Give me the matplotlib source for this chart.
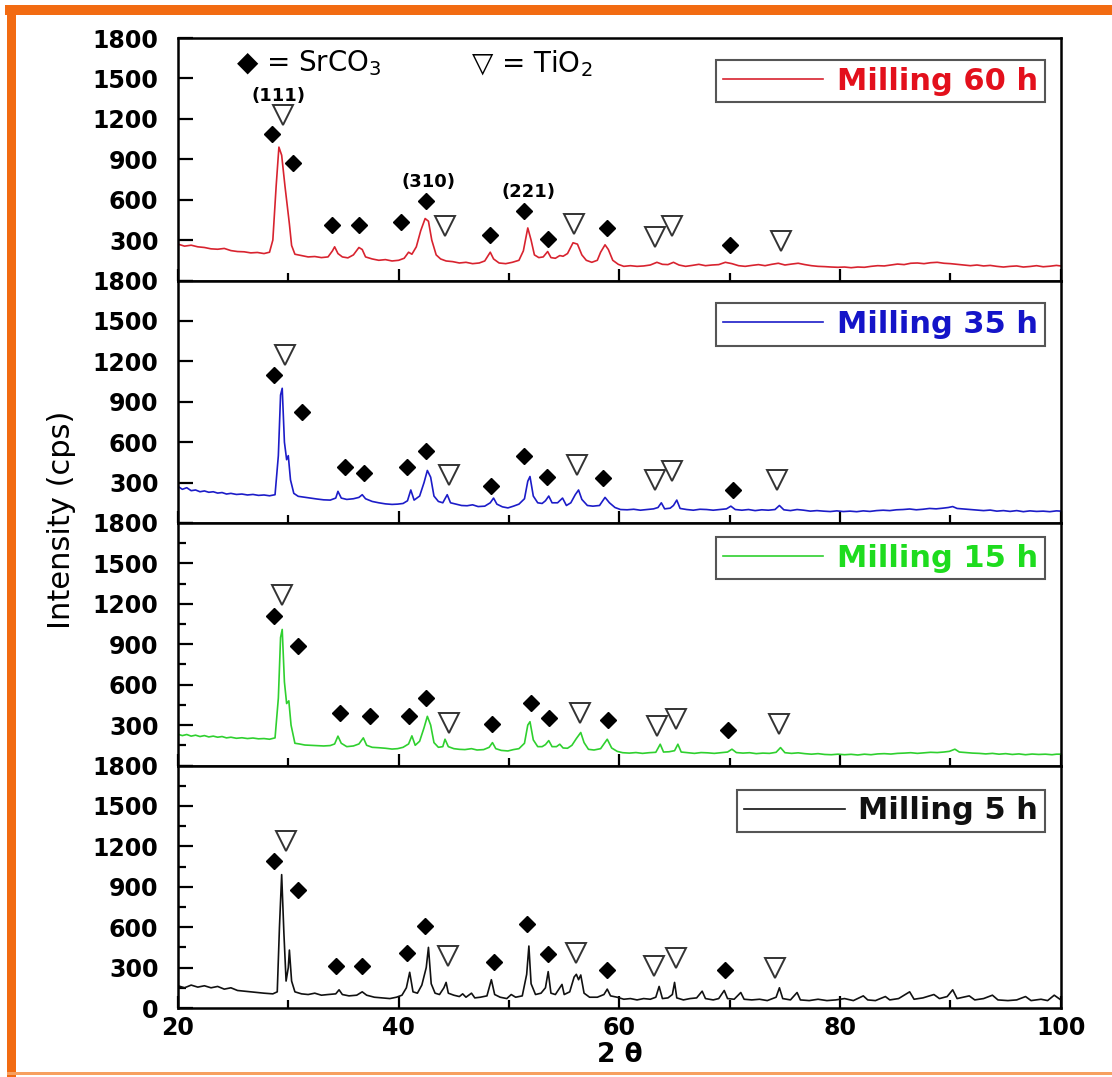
import matplotlib.pyplot as plt
from matplotlib.lines import Line2D
from matplotlib.patches import Rectangle
from matplotlib.ticker import MultipleLocator

# ---- padrões de DRX (2 theta, intensidade em cps) ----
tt_60 = [20.0, 20.6, 21.2, 21.8, 22.4, 23.0, 23.6, 24.2, 24.8, 25.4, 26.0, 26.6, 27.2, 27.8, 28.3, 28.6,
         28.9, 29.15, 29.4, 29.7, 29.9, 30.1, 30.3, 30.6, 31.2, 31.8, 32.4, 33.0, 33.6, 34.0, 34.2, 34.5,
         34.9, 35.4, 35.9, 36.4, 36.7, 37.0, 37.6, 38.2, 38.8, 39.4, 40.0, 40.5, 40.9, 41.2, 41.6, 42.0,
         42.4, 42.7, 43.0, 43.4, 43.8, 44.3, 44.9, 45.5, 46.1, 46.7, 47.3, 47.8, 48.3, 48.6, 49.1, 49.7,
         50.3, 50.9, 51.3, 51.7, 52.0, 52.3, 52.7, 53.1, 53.5, 53.8, 54.2, 54.6, 54.9, 55.3, 55.8, 56.2,
         56.6, 57.0, 57.5, 58.0, 58.3, 58.7, 59.0, 59.4, 59.9, 60.4, 61.0, 61.6, 62.2, 62.8, 63.4, 63.9,
         64.4, 64.9, 65.4, 66.0, 66.6, 67.2, 67.8, 68.4, 69.0, 69.6, 70.2, 70.8, 71.4, 72.0, 72.6, 73.2,
         73.8, 74.4, 75.0, 75.6, 76.2, 76.8, 77.4, 78.0, 78.6, 79.2, 79.8, 80.4, 81.0, 81.6, 82.2, 82.8,
         83.4, 84.0, 84.6, 85.2, 85.8, 86.4, 87.0, 87.6, 88.2, 88.8, 89.4, 90.0, 90.6, 91.2, 91.8, 92.4,
         93.0, 93.6, 94.2, 94.8, 95.4, 96.0, 96.6, 97.2, 97.8, 98.4, 99.0, 99.6, 100.0]
i_60 = [270, 255, 262, 250, 245, 235, 232, 238, 222, 215, 213, 205, 208, 200, 210, 300,
        700, 990, 930, 700, 560, 420, 260, 195, 185, 175, 178, 170, 175, 220, 250, 200,
        175, 168, 190, 245, 230, 175, 160, 150, 155, 145, 150, 165, 210, 195, 250, 370,
        460, 440, 300, 190, 160, 145, 140, 130, 135, 125, 130, 145, 210, 160, 130, 125,
        135, 150, 220, 390, 300, 190, 170, 175, 215, 170, 165, 185, 180, 200, 280, 270,
        190, 150, 135, 150, 210, 265, 230, 150, 120, 105, 110, 105, 108, 115, 135, 120,
        118, 135, 115, 105, 112, 120, 110, 115, 118, 135, 125, 110, 105, 112, 118, 110,
        120, 128, 115, 122, 128, 118, 110, 105, 103, 100, 98, 100, 95, 100, 98, 105,
        110, 108, 115, 122, 118, 128, 130, 125, 132, 135, 128, 125, 120, 115, 110, 115,
        108, 112, 105, 100, 105, 108, 100, 104, 110, 102, 106, 112, 108]

tt_35 = [20.0, 20.4, 20.8, 21.2, 21.6, 22.0, 22.4, 22.8, 23.2, 23.6, 24.0, 24.4, 24.8, 25.3, 25.8, 26.3,
         26.8, 27.3, 27.8, 28.3, 28.8, 29.1, 29.3, 29.45, 29.65, 29.85, 30.0, 30.2, 30.5, 30.9, 31.4, 32.0,
         32.6, 33.2, 33.8, 34.3, 34.5, 34.8, 35.3, 35.9, 36.4, 36.7, 37.0, 37.6, 38.2, 38.8, 39.4, 39.9,
         40.4, 40.8, 41.1, 41.4, 41.9, 42.3, 42.6, 42.9, 43.2, 43.6, 44.0, 44.4, 44.7, 45.2, 45.7, 46.2,
         46.7, 47.2, 47.8, 48.3, 48.6, 48.9, 49.4, 49.9, 50.4, 50.9, 51.4, 51.7, 51.9, 52.2, 52.6, 53.0,
         53.3, 53.6, 53.9, 54.4, 54.85, 55.2, 55.6, 56.0, 56.3, 56.6, 57.1, 57.6, 58.2, 58.7, 59.1, 59.6,
         60.1, 60.7, 61.3, 61.9, 62.5, 63.1, 63.5, 63.8, 64.1, 64.6, 64.9, 65.2, 65.5, 66.1, 66.7, 67.3,
         67.9, 68.5, 69.1, 69.7, 70.1, 70.5, 71.1, 71.7, 72.3, 72.9, 73.5, 74.1, 74.5, 74.9, 75.5, 76.1,
         76.7, 77.3, 77.9, 78.5, 79.1, 79.7, 80.3, 80.9, 81.5, 82.1, 82.7, 83.3, 83.9, 84.5, 85.1, 85.7,
         86.3, 86.9, 87.5, 88.1, 88.7, 89.3, 89.8, 90.2, 90.6, 91.2, 91.8, 92.4, 93.0, 93.6, 94.2, 94.8,
         95.4, 96.0, 96.6, 97.2, 97.8, 98.4, 99.0, 99.6, 100.0]
i_35 = [272, 250, 262, 240, 245, 232, 238, 228, 232, 222, 226, 215, 220, 212, 215, 208,
        212, 205, 208, 202, 210, 500, 950, 1000, 600, 470, 500, 320, 220, 198, 192, 185,
        178, 172, 170, 185, 235, 185, 175, 180, 190, 210, 180, 160, 150, 142, 138, 140,
        145, 165, 245, 170, 200, 300, 390, 340, 200, 160, 150, 210, 150, 140, 130, 128,
        135, 122, 125, 150, 185, 140, 120, 112, 125, 140, 180, 310, 345, 200, 150, 145,
        165, 200, 150, 150, 185, 130, 150, 210, 245, 175, 130, 125, 130, 190, 150, 115,
        100, 98, 102, 95, 100, 105, 115, 150, 105, 110, 130, 170, 108, 100, 95, 102,
        100, 95, 100, 105, 125, 100, 95, 100, 92, 98, 95, 100, 130, 98, 92, 100,
        95, 88, 92, 88, 85, 90, 85, 88, 84, 90, 86, 92, 95, 92, 98, 100,
        104, 98, 102, 108, 105, 110, 115, 122, 108, 104, 100, 96, 92, 96, 88, 92,
        86, 92, 84, 90, 86, 88, 84, 90, 88]

tt_15 = [20.0, 20.4, 20.8, 21.2, 21.6, 22.0, 22.4, 22.8, 23.2, 23.6, 24.0, 24.4, 24.8, 25.3, 25.8, 26.3,
         26.8, 27.3, 27.8, 28.3, 28.8, 29.1, 29.3, 29.45, 29.65, 29.85, 30.05, 30.25, 30.6, 31.0, 31.5, 32.0,
         32.6, 33.2, 33.8, 34.2, 34.5, 34.8, 35.3, 35.9, 36.4, 36.8, 37.1, 37.6, 38.2, 38.8, 39.4, 39.9,
         40.4, 40.9, 41.2, 41.5, 41.9, 42.3, 42.6, 42.9, 43.2, 43.6, 44.0, 44.2, 44.5, 45.0, 45.5, 46.0,
         46.6, 47.1, 47.7, 48.2, 48.5, 48.8, 49.3, 49.9, 50.4, 50.9, 51.4, 51.7, 51.9, 52.2, 52.6, 53.0,
         53.3, 53.6, 53.9, 54.3, 54.6, 54.9, 55.3, 55.7, 56.1, 56.5, 56.8, 57.2, 57.7, 58.3, 58.9, 59.3,
         59.8, 60.3, 60.9, 61.5, 62.1, 62.7, 63.3, 63.7, 64.0, 64.5, 65.0, 65.3, 65.6, 66.2, 66.8, 67.4,
         68.0, 68.6, 69.2, 69.8, 70.2, 70.6, 71.2, 71.8, 72.4, 73.0, 73.6, 74.2, 74.6, 75.0, 75.6, 76.2,
         76.8, 77.4, 78.0, 78.6, 79.2, 79.8, 80.4, 81.0, 81.6, 82.2, 82.8, 83.4, 84.0, 84.6, 85.2, 85.8,
         86.4, 87.0, 87.6, 88.2, 88.8, 89.4, 89.9, 90.4, 90.8, 91.4, 92.0, 92.6, 93.2, 93.8, 94.4, 95.0,
         95.6, 96.2, 96.8, 97.4, 98.0, 98.6, 99.2, 99.6, 100.0]
i_15 = [232, 222, 230, 218, 225, 215, 222, 212, 218, 210, 215, 205, 210, 202, 206, 200,
        204, 198, 200, 195, 205, 500, 950, 1010, 620, 460, 480, 300, 165, 160, 152, 150,
        148, 145, 148, 160, 218, 165, 140, 145, 160, 205, 150, 135, 132, 128, 122, 125,
        135, 160, 220, 150, 180, 280, 365, 300, 170, 135, 140, 195, 140, 125, 120, 118,
        125, 115, 118, 135, 170, 125, 112, 108, 118, 125, 165, 300, 325, 190, 140, 140,
        155, 185, 140, 140, 158, 130, 128, 150, 200, 245, 170, 120, 115, 125, 195, 130,
        105, 95, 92, 96, 90, 95, 98, 158, 100, 102, 110, 158, 100, 95, 90, 96,
        94, 90, 95, 100, 121, 96, 92, 95, 88, 92, 90, 98, 133, 95, 90, 94,
        88, 84, 88, 82, 80, 84, 80, 83, 78, 84, 80, 86, 88, 85, 90, 92,
        95, 90, 94, 98, 96, 100, 105, 121, 100, 96, 92, 90, 86, 90, 84, 88,
        82, 86, 80, 85, 82, 84, 80, 84, 84]

tt_5 = [20.0, 20.6, 21.2, 21.8, 22.4, 23.0, 23.6, 24.2, 24.8, 25.4, 26.0, 26.6, 27.2, 27.8, 28.6, 29.0,
        29.2, 29.4, 29.6, 29.8, 30.0, 30.1, 30.3, 30.6, 31.2, 31.8, 32.4, 33.0, 33.6, 34.3, 34.6, 34.9,
        35.5, 36.2, 36.7, 37.1, 37.8, 38.5, 39.2, 39.8, 40.3, 40.7, 41.0, 41.3, 41.7, 42.1, 42.5, 42.7,
        42.95, 43.3, 43.7, 44.1, 44.3, 44.5, 45.0, 45.5, 45.8, 46.1, 46.6, 46.9, 47.4, 48.0, 48.4, 48.7,
        49.2, 49.8, 50.2, 50.6, 51.2, 51.6, 51.8, 52.0, 52.4, 52.9, 53.3, 53.55, 53.8, 54.2, 54.6, 54.8,
        55.0, 55.5, 55.9, 56.1, 56.3, 56.5, 56.8, 57.3, 58.0, 58.6, 58.9, 59.2, 59.8, 60.4, 61.0, 61.6,
        62.2, 62.8, 63.3, 63.6, 63.9, 64.4, 64.8, 65.0, 65.2, 65.8, 66.4, 67.0, 67.5, 67.8, 68.5, 69.0,
        69.5, 69.8, 70.4, 71.0, 71.3, 72.0, 72.7, 73.4, 74.2, 74.5, 74.8, 75.5, 76.1, 76.4, 77.2, 78.0,
        78.8, 79.6, 80.4, 81.2, 82.1, 82.5, 83.2, 84.1, 84.5, 85.3, 86.3, 86.7, 87.5, 88.5, 89.0, 89.7,
        90.2, 90.6, 91.7, 92.2, 93.0, 93.8, 94.3, 95.2, 96.0, 96.8, 97.3, 98.2, 98.8, 99.4, 100.0]
i_5 = [165, 150, 170, 155, 165, 150, 160, 140, 150, 130, 125, 120, 115, 110, 105, 120,
       600, 990, 560, 200, 300, 430, 200, 120, 105, 100, 110, 95, 100, 105, 135, 100,
       90, 95, 120, 95, 80, 75, 70, 80, 95, 150, 265, 120, 110, 170, 300, 450,
       180, 110, 100, 150, 190, 110, 95, 85, 105, 80, 110, 75, 80, 90, 210, 100,
       80, 70, 100, 80, 90, 250, 460, 180, 100, 110, 150, 270, 110, 100, 150, 175,
       100, 120, 230, 250, 210, 245, 110, 80, 80, 100, 140, 90, 80, 65, 70, 60,
       70, 65, 80, 160, 70, 75, 100, 190, 75, 60, 70, 75, 125, 70, 60, 70,
       130, 70, 65, 115, 65, 60, 65, 55, 80, 150, 70, 60, 115, 60, 55, 65,
       55, 60, 70, 55, 90, 60, 55, 85, 60, 70, 120, 65, 75, 100, 70, 85,
       135, 70, 90, 60, 70, 95, 60, 55, 60, 85, 55, 65, 55, 95, 60]

# ---- posições dos símbolos de fase (2 theta, cps) ----
sr_60_x = [28.5, 30.45, 34.0, 36.4, 40.2, 42.5, 48.3, 51.4, 53.5, 58.9, 70.0]
sr_60_y = [1089, 872, 415, 410, 435, 588, 341, 514, 311, 390, 267]
ti_60_x = [29.5, 44.2, 55.9, 63.2, 64.8, 74.6]
ti_60_y = [1230, 405, 422, 324, 403, 291]

sr_35_x = [28.7, 31.2, 35.1, 36.9, 40.8, 42.45, 48.4, 51.4, 53.4, 58.5, 70.3]
sr_35_y = [1099, 822, 412, 370, 412, 536, 277, 494, 341, 333, 242]
ti_35_x = [29.7, 44.6, 56.2, 63.2, 64.8, 74.3]
ti_35_y = [1247, 358, 432, 321, 383, 321]

sr_15_x = [28.7, 30.9, 34.7, 37.4, 40.9, 42.45, 48.5, 52.0, 53.6, 59.0, 69.8]
sr_15_y = [1109, 887, 393, 368, 368, 504, 306, 467, 356, 338, 264]
ti_15_x = [29.4, 44.6, 56.4, 63.45, 65.1, 74.5]
ti_15_y = [1262, 319, 393, 294, 343, 306]

sr_5_x = [28.7, 30.9, 34.3, 36.7, 40.8, 42.4, 48.6, 51.6, 53.5, 58.9, 69.6]
sr_5_y = [1088, 874, 309, 309, 408, 611, 341, 624, 400, 280, 285]
ti_5_x = [29.8, 44.5, 56.1, 63.1, 65.1, 74.1]
ti_5_y = [1237, 383, 408, 309, 371, 297]

hkl_labels = ['(111)', '(310)', '(221)']
hkl_x = [29.1, 42.7, 51.8]
hkl_y = [1373, 731, 657]

legendas = ['Milling 60 h', 'Milling 35 h', 'Milling 15 h', 'Milling 5 h']
cores_linha = ['#d8232f', '#1c1cc8', '#2fd02f', '#111111']
cores_texto = ['#e3101c', '#1414c8', '#1edc1e', '#111111']
yticks = [0, 300, 600, 900, 1200, 1500, 1800]

paineis = [
    (tt_60, i_60, sr_60_x, sr_60_y, ti_60_x, ti_60_y, 0.91),
    (tt_35, i_35, sr_35_x, sr_35_y, ti_35_x, ti_35_y, 0.906),
    (tt_15, i_15, sr_15_x, sr_15_y, ti_15_x, ti_15_y, 0.943),
    (tt_5, i_5, sr_5_x, sr_5_y, ti_5_x, ti_5_y, 0.90),
]

fig, axs = plt.subplots(4, 1, sharex=True, figsize=(11.12, 10.77), dpi=100,
                        gridspec_kw={'hspace': 0})
fig.subplots_adjust(left=0.160, right=0.954, top=1 - 38 / 1077, bottom=1 - 1008 / 1077)

for k, (ax, p) in enumerate(zip(axs, paineis)):
    tt, inten, sx, sy, tx, ty, leg_y = p
    ax.plot(tt, inten, color=cores_linha[k], lw=1.2, zorder=2)
    ax.plot(sx, sy, 'D', ms=8.5, color='black', zorder=3, ls='none')
    ax.plot(tx, ty, 'v', ms=14, mfc='white', mec='#333333', mew=1.4, zorder=3, ls='none')

    ax.set_xlim(20, 100)
    ax.set_ylim(0, 1800)
    ax.xaxis.set_major_locator(MultipleLocator(20))
    ax.xaxis.set_minor_locator(MultipleLocator(10))
    ax.set_yticks(yticks)
    if k < 3:
        ax.set_yticklabels([''] + [str(v) for v in yticks[1:]])
    if k >= 2:
        ax.yaxis.set_minor_locator(MultipleLocator(150))

    ax.tick_params(axis='both', which='both', direction='in', top=False, right=False, width=1.6)
    ax.tick_params(axis='x', which='major', length=9, pad=6)
    ax.tick_params(axis='x', which='minor', length=5.5)
    ax.tick_params(axis='y', which='major', length=11, pad=14)
    ax.tick_params(axis='y', which='minor', length=6)
    for lbl in ax.get_yticklabels() + ax.get_xticklabels():
        lbl.set_fontweight('bold')
        lbl.set_fontsize(17)
    for s in ax.spines.values():
        s.set_linewidth(1.8)

    h = Line2D([], [], color=cores_linha[k], lw=1.2)
    lg = ax.legend([h], [legendas[k]], loc='upper right', bbox_to_anchor=(0.982, leg_y),
                   prop={'weight': 'bold', 'size': 22}, frameon=True, fancybox=False,
                   edgecolor='#555555', framealpha=1, handlelength=3.3, handletextpad=0.45,
                   borderpad=0.22, borderaxespad=0)
    lg.get_frame().set_linewidth(1.5)
    lg.get_texts()[0].set_color(cores_texto[k])

# anotações do painel de cima
ax0 = axs[0]
ax0.text(0.066, 0.895, '◆ = SrCO$_3$', transform=ax0.transAxes, fontsize=20, ha='left', va='center')
ax0.text(0.332, 0.895, '▽ = TiO$_2$', transform=ax0.transAxes, fontsize=20, ha='left', va='center')
for lab, hx, hy in zip(hkl_labels, hkl_x, hkl_y):
    ax0.text(hx, hy, lab, fontsize=13, fontweight='bold', ha='center', va='center')

axs[3].set_xlabel('2 θ', fontsize=19, fontweight='bold', labelpad=1)
fig.text(62 / 1112, 1 - 520 / 1077, 'Intensity (cps)', rotation=90, fontsize=22,
         ha='center', va='center')

# moldura laranja
fig.add_artist(Rectangle((5 / 1112, 1 - 15 / 1077), 1, 10 / 1077, transform=fig.transFigure,
                         color='#f26b12', lw=0))
fig.add_artist(Rectangle((7 / 1112, 0), 9 / 1112, 1 - 5 / 1077, transform=fig.transFigure,
                         color='#f26b12', lw=0))
fig.add_artist(Rectangle((7 / 1112, 2 / 1077), 1, 3 / 1077, transform=fig.transFigure,
                         color='#f7a060', lw=0))

fig.savefig('out.png', dpi=100)
